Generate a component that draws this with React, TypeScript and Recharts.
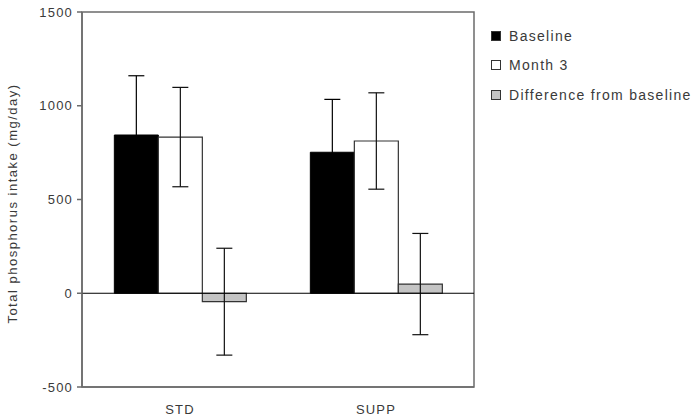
import React from 'react';
import {
  BarChart,
  Bar,
  XAxis,
  YAxis,
  ErrorBar,
  ReferenceLine,
  ReferenceArea,
} from 'recharts';

// values (mg/day)
const groups = ['STD', 'SUPP'];
const baseline = [844, 752];
const baselineErr = [316, 282];
const month3 = [833, 812];
const month3Err = [265, 257];
const diffFromBase = [-45, 49];
const diffErr = [285, 270];
const yTicks = [-500, 0, 500, 1000, 1500];

const seriesNames = ['Baseline', 'Month 3', 'Difference from baseline'];
const seriesFills = ['#000000', '#ffffff', '#c4c4c4'];

const data = groups.map((g, i) => ({
  group: g,
  baseline: baseline[i],
  baselineErr: baselineErr[i],
  month3: month3[i],
  month3Err: month3Err[i],
  diff: diffFromBase[i],
  diffErr: diffErr[i],
}));

const font = '"Liberation Sans", Arial, sans-serif';
const textColor = '#3a3a3a';
const axisColor = '#6b6b6b';

function YLabel(props: any) {
  const vb = props.viewBox || { x: 0, y: 0, width: 0, height: 0 };
  const x = vb.x + 12;
  const y = vb.y + vb.height / 2 + 4;
  return (
    <text
      x={x}
      y={y}
      transform={`rotate(-90, ${x}, ${y})`}
      textAnchor="middle"
      dominantBaseline="central"
      fontSize={13}
      letterSpacing={1.5}
      fill={textColor}
      fontFamily={font}
    >
      Total phosphorus intake (mg/day)
    </text>
  );
}

function SideLegend() {
  return (
    <div style={{ position: 'absolute', left: 491, top: 21, fontFamily: font, fontSize: 14, letterSpacing: 1.3, color: textColor }}>
      {seriesNames.map((name, i) => (
        <div key={name} style={{ display: 'flex', alignItems: 'center', height: 29.5 }}>
          <span
            style={{
              display: 'inline-block',
              width: 8,
              height: 8,
              background: seriesFills[i],
              border: '1px solid #333',
              marginRight: 8,
            }}
          />
          <span style={{ lineHeight: '16px' }}>{name}</span>
        </div>
      ))}
    </div>
  );
}

export default function App() {
  const tickStyle = { fontSize: 13, fill: textColor, fontFamily: font, letterSpacing: 1.2 };
  return (
    <div style={{ position: 'absolute', left: 0, top: 0, width: 696, height: 420, background: '#fff' }}>
      <BarChart
        width={696}
        height={420}
        data={data}
        margin={{ top: 12, right: 222, bottom: 0, left: 0 }}
        barGap={0}
        barCategoryGap="16.5%"
      >
        <ReferenceArea y1={-500} y2={1500} fill="none" stroke={axisColor} strokeWidth={1.5} fillOpacity={0} />
        <XAxis
          dataKey="group"
          stroke={axisColor}
          strokeWidth={1.5}
          tickLine={false}
          tickSize={8}
          tickMargin={10}
          height={33}
          tick={tickStyle}
        />
        <YAxis
          domain={[-500, 1500]}
          ticks={yTicks}
          interval={0}
          width={82}
          stroke={axisColor}
          strokeWidth={1.5}
          tickSize={5}
          tickMargin={4}
          tick={tickStyle}
          label={<YLabel />}
        />
        <Bar dataKey="baseline" name={seriesNames[0]} fill={seriesFills[0]} stroke="#000" strokeWidth={1} isAnimationActive={false}>
          <ErrorBar dataKey="baselineErr" width={8} stroke="#000" strokeWidth={1.2} isAnimationActive={false} />
        </Bar>
        <Bar dataKey="month3" name={seriesNames[1]} fill={seriesFills[1]} stroke="#333" strokeWidth={1.2} isAnimationActive={false}>
          <ErrorBar dataKey="month3Err" width={8} stroke="#111" strokeWidth={1.2} isAnimationActive={false} />
        </Bar>
        <Bar dataKey="diff" name={seriesNames[2]} fill={seriesFills[2]} stroke="#333" strokeWidth={1.2} isAnimationActive={false}>
          <ErrorBar dataKey="diffErr" width={8} stroke="#111" strokeWidth={1.2} isAnimationActive={false} />
        </Bar>
        <ReferenceLine y={0} stroke="#000" strokeWidth={1} />
      </BarChart>
      <SideLegend />
    </div>
  );
}
